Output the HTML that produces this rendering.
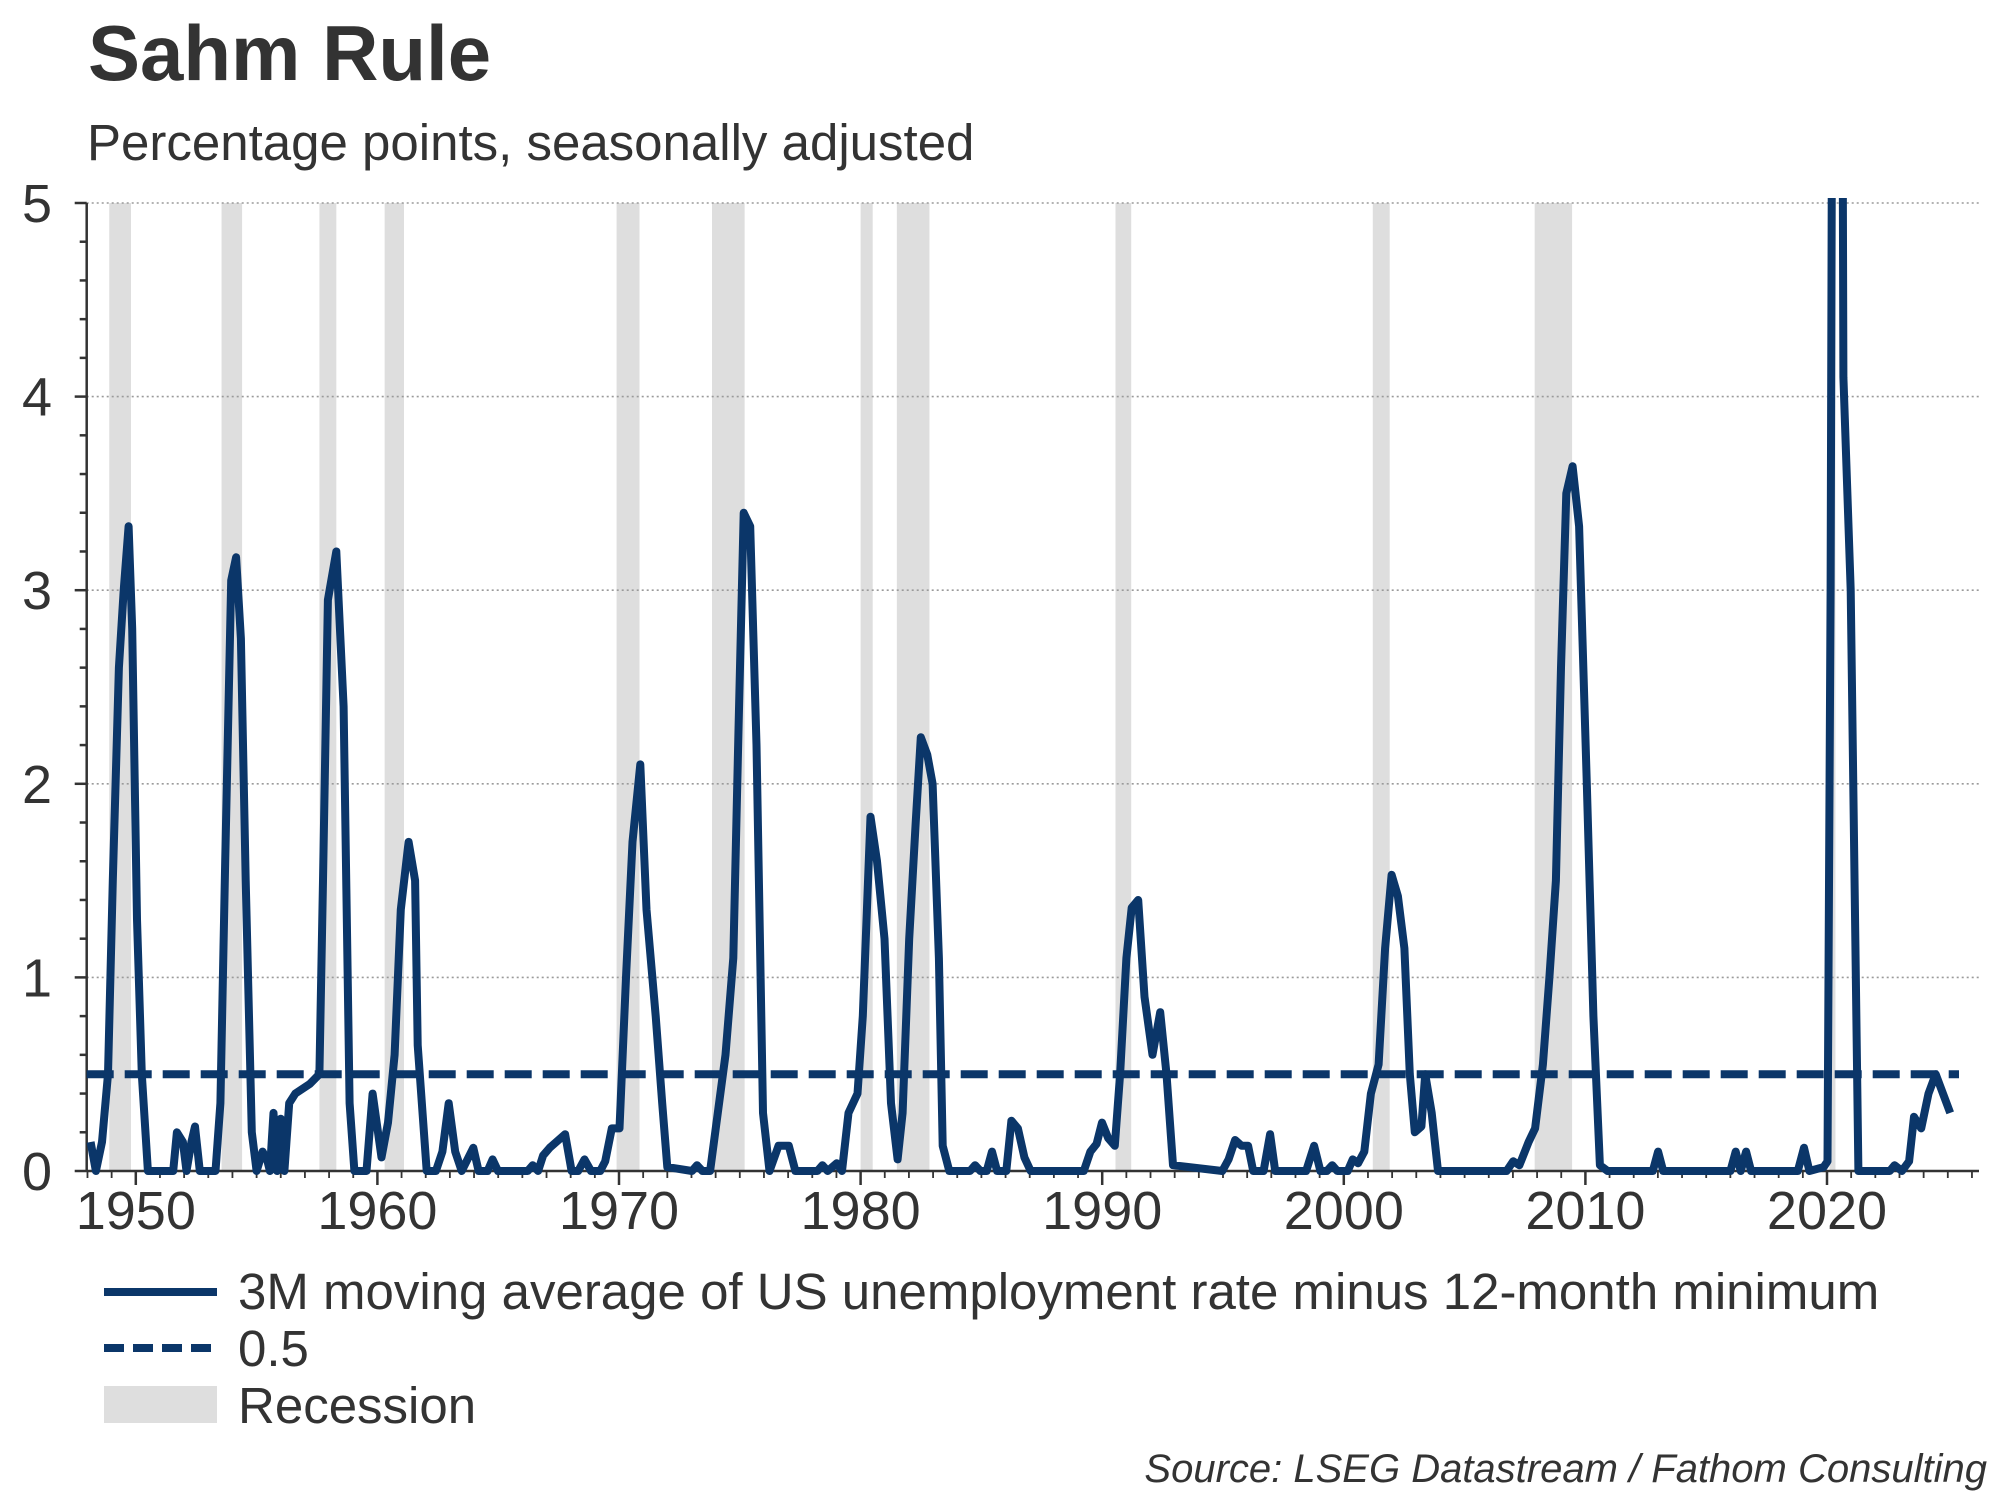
<!DOCTYPE html>
<html><head><meta charset="utf-8">
<style>
html,body{margin:0;padding:0;background:#fff;}
body{width:2000px;height:1500px;overflow:hidden;font-family:"Liberation Sans",Arial,sans-serif;color:#333;}
</style></head>
<body>
<svg id="chart" width="2000" height="1500" viewBox="0 0 2000 1500" xmlns="http://www.w3.org/2000/svg">
<text x="88" y="80" font-family="Liberation Sans, Arial, sans-serif" font-weight="bold" font-size="78" fill="#333">Sahm Rule</text>
<text x="87" y="160" font-family="Liberation Sans, Arial, sans-serif" font-size="51" fill="#333">Percentage points, seasonally adjusted</text>
<g id="recessions"></g>
<g id="grid"></g>
<g id="axes"></g>
<defs><clipPath id="plotclip"><rect x="86" y="198" width="1900" height="980"/></clipPath></defs>
<g id="series" clip-path="url(#plotclip)"></g>
<g>
<line x1="104" y1="1292" x2="217" y2="1292" stroke="#0b3669" stroke-width="8"/>
<text x="238" y="1309" font-size="51" fill="#333">3M moving average of US unemployment rate minus 12-month minimum</text>
<line x1="104" y1="1348" x2="217" y2="1348" stroke="#0b3669" stroke-width="8" stroke-dasharray="20,9"/>
<text x="238" y="1366" font-size="51" fill="#333">0.5</text>
<rect x="104" y="1386" width="113" height="37" fill="#dedede"/>
<text x="238" y="1423" font-size="51" fill="#333">Recession</text>
</g>
<text x="1987" y="1482" text-anchor="end" font-size="40" font-style="italic" fill="#333">Source: LSEG Datastream / Fathom Consulting</text>
</svg>
<script>
const yTicks = [0,1,2,3,4,5];
const xTickYears = [1950,1960,1970,1980,1990,2000,2010,2020];
const recessionStarts = [1948.9,1953.55,1957.6,1960.3,1969.9,1973.85,1980.0,1981.5,1990.55,2001.2,2007.9,2020.1];
const recessionEnds   = [1949.8,1954.4,1958.3,1961.1,1970.85,1975.2,1980.5,1982.85,1991.2,2001.9,2009.45,2020.35];
const threshold = 0.5;
const seriesYears = [1948.13,1948.35,1948.6,1948.85,1949.05,1949.3,1949.5,1949.7,1949.85,1950.05,1950.25,1950.5,1951.55,1951.7,1951.95,1952.1,1952.3,1952.45,1952.65,1953.3,1953.5,1953.7,1953.95,1954.15,1954.35,1954.55,1954.8,1955.0,1955.25,1955.45,1955.55,1955.7,1955.85,1956.0,1956.15,1956.35,1956.6,1957.2,1957.6,1957.75,1957.95,1958.3,1958.6,1958.85,1959.05,1959.55,1959.8,
1960.17,1960.44,1960.71,1960.97,1961.29,1961.56,1961.67,1962.04,1962.42,1962.69,1962.95,1963.22,1963.49,1963.97,1964.19,1964.56,1964.77,1964.99,1966.22,1966.43,1966.65,1966.86,1967.13,1967.77,1968.04,1968.31,1968.57,1968.84,1969.22,1969.43,1969.70,1970.02,1970.29,1970.56,1970.88,1971.14,1971.52,1971.79,1972.00,1973.02,1973.23,1973.45,1973.77,1974.09,1974.41,1974.73,1974.95,1975.16,1975.43,1975.69,1975.96,1976.23,1976.60,1977.03,1977.30,1978.21,1978.42,1978.64,1979.01,1979.23,1979.50,1979.87,1980.09,1980.41,1980.68,1980.99,1981.26,1981.53,1981.74,1982.01,1982.28,1982.49,1982.76,1982.98,1983.24,1983.40,1983.67,1984.53,1984.74,1984.96,1985.22,1985.44,1985.65,1986.03,1986.24,1986.51,1986.78,1987.04,1989.24,1989.51,1989.77,1989.99,1990.25,1990.52,1990.74,1991.00,1991.22,1991.49,1991.75,1992.08,1992.40,1992.66,1992.93,1994.97,1995.23,1995.50,1995.77,1996.04,1996.25,1996.68,1996.95,1997.16,1998.44,1998.77,1999.03,1999.30,1999.52,1999.73,2000.16,2000.37,2000.59,2000.85,2001.12,2001.44,2001.71,2001.98,2002.24,2002.51,2002.73,2002.94,2003.21,2003.37,2003.64,2003.90,2006.74,2007.01,2007.27,2007.65,2007.92,2008.24,2008.51,2008.78,2008.99,2009.21,2009.47,2009.74,2010.06,2010.33,2010.60,2010.92,2012.79,2013.01,2013.22,2016.00,2016.22,2016.43,2016.65,2016.86,2018.79,2019.05,2019.27,2019.86,2020.02,2020.15,2020.3,2020.55,2020.68,2020.98,2021.3,2022.6,2022.8,2023.1,2023.4,2023.6,2023.9,2024.2,2024.5,2025.1];
const seriesValues = [0.15,0,0.15,0.5,1.5,2.6,3.0,3.33,2.8,1.3,0.5,0,0,0.2,0.15,0,0.15,0.23,0,0,0.35,1.6,3.05,3.17,2.75,1.5,0.2,0,0.1,0.05,0,0.3,0,0.27,0,0.35,0.4,0.45,0.5,1.5,2.95,3.2,2.4,0.35,0,0,0.4,
0.07,0.25,0.6,1.35,1.7,1.5,0.65,0,0,0.1,0.35,0.1,0,0.12,0,0,0.06,0,0,0.03,0,0.08,0.12,0.19,0,0,0.06,0,0,0.05,0.22,0.22,1.0,1.7,2.1,1.35,0.8,0.35,0.02,0,0.03,0,0,0.3,0.6,1.1,2.3,3.4,3.33,2.2,0.3,0,0.13,0.13,0,0,0.03,0,0.04,0,0.3,0.4,0.8,1.83,1.6,1.2,0.35,0.06,0.3,1.2,1.8,2.24,2.15,2.0,1.1,0.13,0,0,0.03,0,0,0.1,0,0,0.26,0.22,0.07,0,0,0.1,0.14,0.25,0.17,0.13,0.5,1.1,1.36,1.4,0.9,0.6,0.82,0.5,0.03,0,0.06,0.16,0.13,0.13,0,0,0.19,0,0,0.13,0,0,0.03,0,0,0.06,0.04,0.1,0.4,0.55,1.15,1.53,1.42,1.15,0.5,0.2,0.23,0.5,0.3,0,0,0.05,0.03,0.15,0.22,0.55,1.0,1.5,2.6,3.5,3.64,3.33,2.0,0.8,0.03,0,0,0.1,0,0,0.1,0,0.1,0,0,0.12,0,0.02,0.05,3.0,9.5,9.5,4.1,3.0,0,0,0.03,0,0.05,0.28,0.22,0.4,0.5,0.3];

const NS='http://www.w3.org/2000/svg';
const X0=135.8, PX_PER_YEAR=24.16, Y0=1171, PX_PER_UNIT=193.6;
const LEFT=86.7, RIGHT=1979;
function xScale(yr){return X0+(yr-1950)*PX_PER_YEAR;}
function yScale(v){return Y0-v*PX_PER_UNIT;}
function mk(tag,attrs,parent){const e=document.createElementNS(NS,tag);for(const k in attrs)e.setAttribute(k,attrs[k]);parent.appendChild(e);return e;}

const rg=document.getElementById('recessions');
for(let i=0;i<recessionStarts.length;i++){
  const r=mk('rect',{x:xScale(recessionStarts[i]),y:yScale(5),width:xScale(recessionEnds[i])-xScale(recessionStarts[i]),height:yScale(0)-yScale(5),fill:'#dedede'},rg);
  
  
}
const gg=document.getElementById('grid');
yTicks.forEach(v=>{
  if(v===0)return;
  const l=mk('line',{x1:LEFT,x2:RIGHT,y1:yScale(v),y2:yScale(v),stroke:'#9a9a9a','stroke-width':1.6,'stroke-dasharray':'2,3'},gg);
  
  
});
const ax=document.getElementById('axes');
const yl=mk('line',{x1:LEFT,x2:LEFT,y1:yScale(5),y2:yScale(0),stroke:'#333','stroke-width':2.5},ax);


for(let k=0;k<=25;k++){
  const v=k*0.2, major=(k%5===0);
  const t=mk('line',{x1:LEFT-(major?12:7),x2:LEFT,y1:yScale(v),y2:yScale(v),stroke:'#333','stroke-width':2.5},ax);
  
  
}
yTicks.forEach(v=>{
  const t=mk('text',{x:52,y:yScale(v)+19,'text-anchor':'end','font-size':54,fill:'#333'},ax);
  t.textContent=String(v);
  
  
});
const xl=mk('line',{x1:LEFT,x2:RIGHT,y1:Y0,y2:Y0,stroke:'#333','stroke-width':2.5},ax);


for(let yr=1948;yr<=2026;yr++){
  const major=(yr%10===0);
  const t=mk('line',{x1:xScale(yr),x2:xScale(yr),y1:Y0,y2:Y0+(major?14:7),stroke:'#333','stroke-width':major?2.5:1.8},ax);
  
  
}
xTickYears.forEach(yr=>{
  const t=mk('text',{x:xScale(yr),y:1229,'text-anchor':'middle','font-size':54,fill:'#333'},ax);
  t.textContent=String(yr);
  
  
});
const sg=document.getElementById('series');
const th=mk('line',{x1:LEFT,x2:RIGHT-20,y1:yScale(threshold),y2:yScale(threshold),stroke:'#0b3669','stroke-width':8,'stroke-dasharray':'27,11'},sg);


let d='';
for(let i=0;i<seriesYears.length;i++){d+=(i?'L':'M')+xScale(seriesYears[i]).toFixed(1)+','+yScale(seriesValues[i]).toFixed(1);}
const p=mk('path',{d:d,fill:'none',stroke:'#0b3669','stroke-width':8,'stroke-linejoin':'round'},sg);


</script>
</body></html>
